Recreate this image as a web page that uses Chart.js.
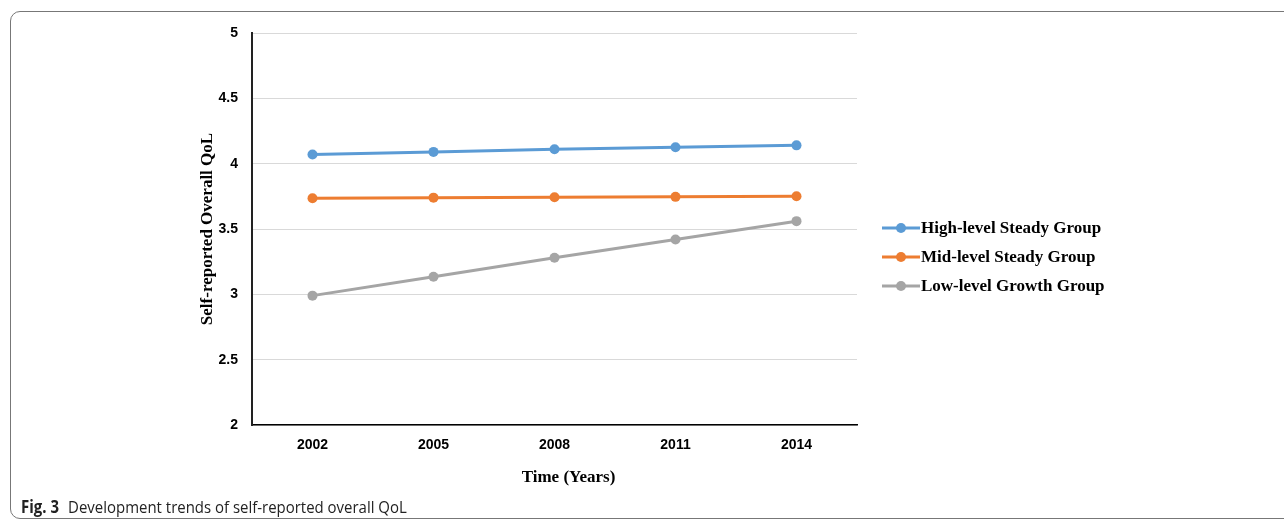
<!DOCTYPE html>
<html>
<head>
<meta charset="utf-8">
<script src="https://cdn.jsdelivr.net/npm/chart.js@4.4.1/dist/chart.umd.min.js"></script>
<style>
  html, body { margin: 0; padding: 0; background: #fff; }
  #wrap { position: relative; width: 1284px; height: 523px; overflow: hidden; }
  #frame { position: absolute; left: 10px; top: 11px; width: 1320px; height: 506px;
           border: 1.5px solid #777; border-radius: 10px; }
  #box { position: absolute; left: 0; top: 0; width: 1284px; height: 523px; }
  #caption { position: absolute; left: 21px; top: 495px; font-family: "Open Sans", sans-serif;
             font-size: 17px; color: #222; white-space: nowrap;
             transform: scaleX(0.88); transform-origin: left top; }
  #caption b { font-weight: 700; margin-right: 6px; }
</style>
</head>
<body>
<div id="wrap">
  <div id="frame"></div>
  <div id="box"><canvas id="myChart"></canvas></div>
  <div id="caption"><b>Fig. 3</b> Development trends of self-reported overall QoL</div>
</div>
<script>
const years = ["2002", "2005", "2008", "2011", "2014"];
const highSteady = [4.07, 4.09, 4.11, 4.125, 4.14];
const midSteady = [3.735, 3.74, 3.743, 3.746, 3.75];
const lowGrowth = [2.99, 3.135, 3.28, 3.42, 3.56];
const seriesNames = ["High-level Steady Group", "Mid-level Steady Group", "Low-level Growth Group"];
const colors = ["#5B9BD5", "#ED7D31", "#A5A5A5"];
const xTitle = "Time (Years)";

const tickFont = {family: "'Liberation Sans', Arial, sans-serif", size: 14, weight: "bold"};
const serifBold = {family: "'Liberation Serif', 'Times New Roman', serif", size: 17, weight: "bold"};

function makeSet(label, data, color) {
  return {
    label: label,
    data: data,
    borderColor: color,
    backgroundColor: color,
    borderWidth: 3,
    pointRadius: 5,
    pointHoverRadius: 5,
    pointBorderWidth: 0,
    fill: false,
    tension: 0
  };
}

// legend beside the plot (line with a dot + bold serif label) and the x title,
// which sits a little right of the plot centre in the original
const sideLegend = {
  id: "sideLegend",
  afterDraw(chart) {
    const ctx = chart.ctx;
    const rows = [228, 257, 286];
    ctx.save();
    ctx.font = "bold 17px 'Liberation Serif', 'Times New Roman', serif";
    ctx.textBaseline = "middle";
    chart.data.datasets.forEach((ds, i) => {
      const y = rows[i];
      ctx.strokeStyle = ds.borderColor;
      ctx.lineWidth = 3;
      ctx.beginPath();
      ctx.moveTo(882, y);
      ctx.lineTo(920, y);
      ctx.stroke();
      ctx.fillStyle = ds.borderColor;
      ctx.beginPath();
      ctx.arc(901, y, 5, 0, Math.PI * 2);
      ctx.fill();
      ctx.fillStyle = "#000";
      ctx.textAlign = "left";
      ctx.fillText(ds.label, 921, y + 1);
    });
    ctx.textAlign = "center";
    ctx.fillStyle = "#000";
    ctx.fillText(xTitle, chart.chartArea.left + (chart.chartArea.right - chart.chartArea.left) / 2 + 14, 478);
    ctx.restore();
  }
};

new Chart("myChart", {
  type: "line",
  data: {
    labels: years,
    datasets: [
      makeSet(seriesNames[0], highSteady, colors[0]),
      makeSet(seriesNames[1], midSteady, colors[1]),
      makeSet(seriesNames[2], lowGrowth, colors[2])
    ]
  },
  options: {
    responsive: true,
    maintainAspectRatio: false,
    animation: false,
    layout: {padding: {left: 197, right: 427, top: 33, bottom: 23}},
    plugins: {
      legend: {display: false},
      tooltip: {enabled: false}
    },
    scales: {
      x: {
        offset: true,
        grid: {display: false, drawTicks: false},
        border: {display: true, color: "#000", width: 1.5},
        ticks: {color: "#000", font: tickFont, padding: 12, maxRotation: 0},
        afterFit(scale) { scale.height = 75; }
      },
      y: {
        min: 2,
        max: 5,
        ticks: {
          stepSize: 0.5, color: "#000", font: tickFont, padding: 14,
          callback: (v) => String(v)
        },
        grid: {color: "#d9d9d9", lineWidth: 1, drawTicks: false},
        border: {display: true, color: "#222", width: 2},
        title: {display: true, text: "Self-reported Overall QoL", color: "#000", font: serifBold, padding: 0},
        afterFit(scale) { scale.width = 55; }
      }
    }
  },
  plugins: [sideLegend]
});
</script>
</body>
</html>
